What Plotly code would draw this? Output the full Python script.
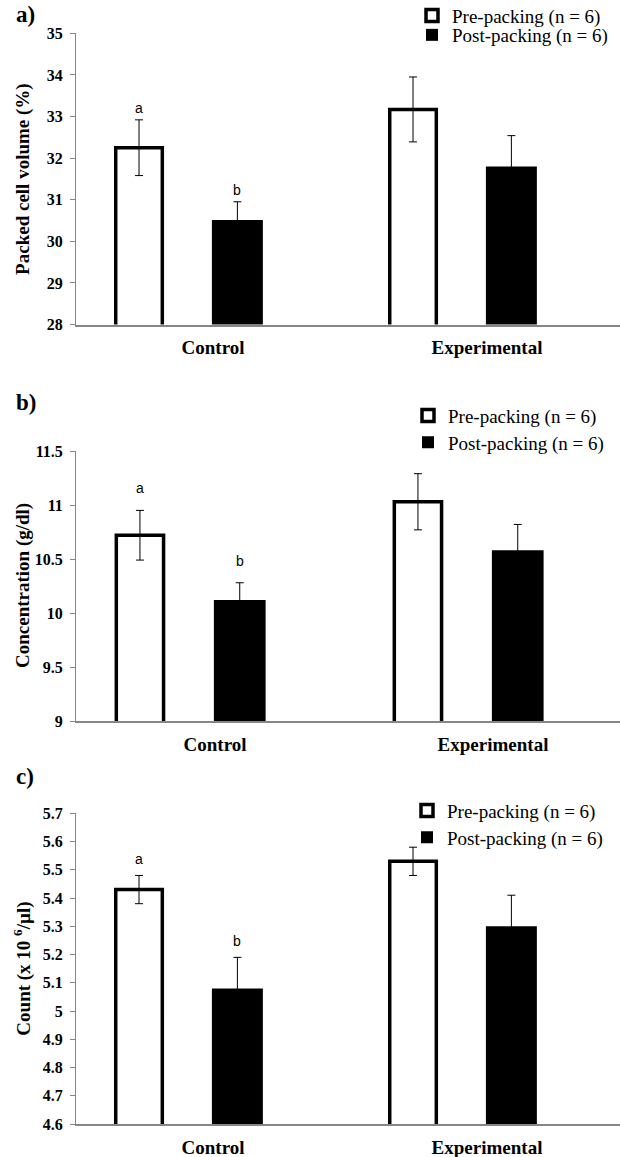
import plotly.graph_objects as go

# ---------------- data ----------------
categories = ["Control", "Experimental"]
series_names = ["Pre-packing (n = 6)", "Post-packing (n = 6)"]

pcv_pre = [32.25, 33.17]
pcv_pre_err = [0.67, 0.78]
pcv_post = [30.51, 31.80]
pcv_post_err = [0.44, 0.74]

hb_pre = [10.72, 11.03]
hb_pre_err = [0.23, 0.26]
hb_post = [10.12, 10.58]
hb_post_err = [0.16, 0.24]

rbc_pre = [5.43, 5.53]
rbc_pre_err = [0.05, 0.05]
rbc_post = [5.08, 5.30]
rbc_post_err = [0.11, 0.11]

pcv_ticks = [28, 29, 30, 31, 32, 33, 34, 35]
pcv_ticktext = ["28", "29", "30", "31", "32", "33", "34", "35"]
hb_ticks = [9, 9.5, 10, 10.5, 11, 11.5]
hb_ticktext = ["9", "9.5", "10", "10.5", "11", "11.5"]
rbc_ticks = [4.6, 4.7, 4.8, 4.9, 5.0, 5.1, 5.2, 5.3, 5.4, 5.5, 5.6, 5.7]
rbc_ticktext = ["4.6", "4.7", "4.8", "4.9", "5", "5.1", "5.2", "5.3", "5.4", "5.5", "5.6", "5.7"]

y_titles = ["Packed cell volume (%)", "Concentration (g/dl)", "Count (x 10 <sup>6</sup>/µl)"]
panel_labels = ["a)", "b)", "c)"]
control_letters = ["a", "b"]  # pre, post for Control group

# ---------------- layout geometry (pixels) ----------------
W, H = 620, 1157
SERIF = "Liberation Serif"
SANS = "Liberation Sans"
AXIS_GRAY = "#868686"
axis_left = 76

panels = [
    dict(pre=pcv_pre, pre_err=pcv_pre_err, post=pcv_post, post_err=pcv_post_err,
         ticks=pcv_ticks, ticktext=pcv_ticktext, yr=[28, 35],
         top=33.3, bottom=324.5, catw=274, rows=[16.7, 36.0], text_x=452,
         lab_y=14.5, lshift=2),
    dict(pre=hb_pre, pre_err=hb_pre_err, post=hb_post, post_err=hb_post_err,
         ticks=hb_ticks, ticktext=hb_ticktext, yr=[9, 11.5],
         top=451, bottom=721, catw=278, rows=[416.7, 443.3], text_x=448,
         lab_y=403, lshift=12),
    dict(pre=rbc_pre, pre_err=rbc_pre_err, post=rbc_post, post_err=rbc_post_err,
         ticks=rbc_ticks, ticktext=rbc_ticktext, yr=[4.6, 5.7],
         top=813.3, bottom=1124, catw=274, rows=[811.7, 838.3], text_x=447,
         lab_y=777, lshift=6),
]

PRE_OFF, PRE_W = -0.355, 0.170
POST_OFF, POST_W = -0.004, 0.186
LEG_TEXT_DX = 40   # legend left edge -> text start (px)
LEG_ROW_DY = 20    # legend top -> row centre (px)

fig = go.Figure()
annotations = []
layout = dict(
    width=W, height=H,
    margin=dict(l=0, r=0, t=0, b=0, pad=0, autoexpand=False),
    paper_bgcolor="white", plot_bgcolor="white",
    barmode="overlay", showlegend=True,
)

leg_count = 0
for i, p in enumerate(panels):
    sfx = "" if i == 0 else str(i + 1)
    xa, ya = "x" + sfx, "y" + sfx

    legs = []
    for r in range(2):
        leg_count += 1
        name = "legend" if leg_count == 1 else "legend" + str(leg_count)
        legs.append(name)
        layout[name] = dict(
            x=(p["text_x"] - LEG_TEXT_DX) / W, xanchor="left",
            y=1 - (p["rows"][r] - LEG_ROW_DY) / H, yanchor="top",
            bgcolor="rgba(0,0,0,0)", borderwidth=0,
            font=dict(family=SERIF, size=19, color="black"),
        )

    fig.add_trace(go.Bar(
        x=categories, y=p["pre"], name=series_names[0],
        offset=PRE_OFF, width=PRE_W,
        marker=dict(color="white", line=dict(color="black", width=3.5)),
        error_y=dict(type="data", array=p["pre_err"], color="black", thickness=1, width=4),
        xaxis=xa, yaxis=ya, legend=legs[0],
    ))
    fig.add_trace(go.Bar(
        x=categories, y=p["post"], name=series_names[1],
        offset=POST_OFF, width=POST_W,
        marker=dict(color="black", line=dict(color="black", width=0)),
        error_y=dict(type="data", array=p["post_err"], color="black", thickness=1, width=4),
        xaxis=xa, yaxis=ya, legend=legs[1],
    ))

    ydom = [1 - p["bottom"] / H, 1 - p["top"] / H]
    layout["xaxis" + sfx] = dict(
        domain=[axis_left / W, 1], anchor=ya, type="category",
        range=[-0.5, -0.5 + (W - axis_left) / p["catw"]],
        showline=True, linecolor=AXIS_GRAY, linewidth=1.5,
        ticks="", showgrid=False, zeroline=False, automargin=False,
        tickfont=dict(family=SERIF, size=19, color="black", weight="bold"),
        ticklabelstandoff=5,
    )
    layout["yaxis" + sfx] = dict(
        domain=ydom, anchor=xa, range=p["yr"],
        tickmode="array", tickvals=p["ticks"], ticktext=p["ticktext"],
        showline=True, linecolor=AXIS_GRAY, linewidth=1,
        ticks="outside", ticklen=5, tickcolor=AXIS_GRAY, tickwidth=1,
        showgrid=False, zeroline=False, automargin=False,
        tickfont=dict(family=SERIF, size=16, color="black", weight="bold"),
        ticklabelstandoff=4,
    )

    # panel label
    annotations.append(dict(
        text=panel_labels[i], xref="paper", yref="paper",
        x=14 / W, y=1 - p["lab_y"] / H, xanchor="left", yanchor="middle",
        showarrow=False, font=dict(family=SERIF, size=23, color="black", weight="bold"),
    ))
    # y-axis title
    annotations.append(dict(
        text=y_titles[i], xref="paper", yref="paper",
        x=23 / W, y=(ydom[0] + ydom[1]) / 2, xanchor="center", yanchor="middle",
        textangle=-90, showarrow=False,
        font=dict(family=SERIF, size=19, color="black", weight="bold"),
    ))
    # significance letters above Control bars
    for j, (vals, errs, off, wd) in enumerate([
        (p["pre"], p["pre_err"], PRE_OFF, PRE_W),
        (p["post"], p["post_err"], POST_OFF, POST_W),
    ]):
        annotations.append(dict(
            text=control_letters[j], xref=xa, yref=ya,
            x=off + wd / 2, y=vals[0] + errs[0],
            xanchor="center", yanchor="bottom", yshift=p["lshift"],
            showarrow=False, font=dict(family=SANS, size=14, color="black"),
        ))

layout["annotations"] = annotations
fig.update_layout(**layout)
fig.write_html(
    "out.html",
    config={"responsive": False, "displayModeBar": False},
    post_script="document.body.style.margin='0';document.body.style.padding='0';"
                "document.documentElement.style.overflow='hidden';",
)
